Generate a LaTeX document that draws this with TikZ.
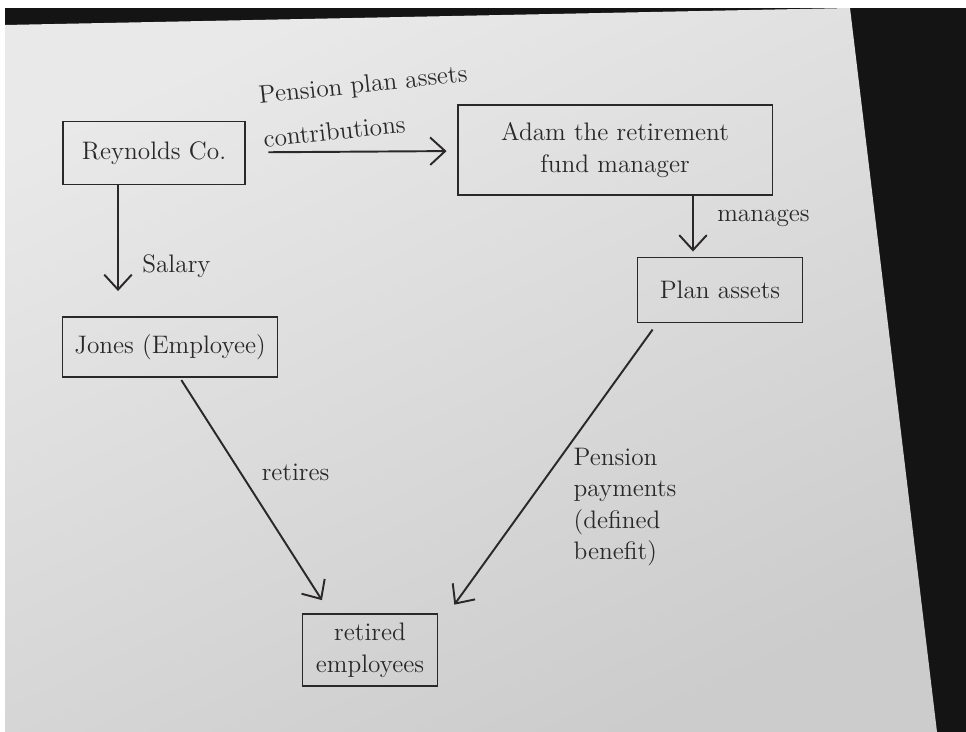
\documentclass[tikz,border=0pt]{standalone}
\usepackage{amsmath}
\usepackage{tikz}
\usetikzlibrary{arrows.meta}
\usetikzlibrary{calc}

\definecolor{ink}{RGB}{42,40,40}
\definecolor{paperA}{RGB}{234,233,234}
\definecolor{paperB}{RGB}{204,204,204}

\begin{document}
\begin{tikzpicture}[x=0.02cm, y=-0.02cm,
    box/.style={draw=ink, line width=1.1pt, rectangle, align=center, text=ink, font=\Large},
    lbl/.style={text=ink, font=\Large, align=left},
    arr/.style={draw=ink, line width=1.1pt, -{Straight Barb[length=3mm,width=5.5mm]}}]

    % photo background
    \useasboundingbox (0,0) rectangle (966,732);
    \fill[white] (0,0) rectangle (966,732);
    \fill[black!92] (5,8) rectangle (966,732);
    \shade[top color=paperA, bottom color=paperB, shading angle=25]
        (5,25) -- (850,8) -- (937,732) -- (5,732) -- cycle;

    \node (rey) [box, minimum width=3.64cm, minimum height=1.26cm] at (154,153) {Reynolds Co.};
    \node (adam) [box, minimum width=6.3cm, minimum height=1.8cm] at (615,150) {Adam the retirement\\fund manager};
    \node (plan) [box, minimum width=3.3cm, minimum height=1.3cm] at (720,290) {Plan assets};
    \node (jones) [box, minimum width=4.3cm, minimum height=1.2cm] at (170,347) {Jones (Employee)};
    \node (ret) [box, minimum width=2.7cm, minimum height=1.45cm] at (370,650) {retired\\employees};

    \draw[arr, shorten <=0.45cm, shorten >=0.2cm] (rey) -- (adam)
        node[lbl, midway, above=0.25cm, xshift=0.35cm, rotate=6, align=left, inner sep=1pt] {Pension plan assets\\[7pt]contributions};
    \draw[arr, shorten >=0.5cm] ([xshift=-0.72cm]rey.south) -- ([xshift=-0.72cm]rey.south |- jones.north)
        node[lbl, midway, right=0.35cm, yshift=-0.3cm] {Salary};
    \draw[arr, shorten >=0.1cm] ([xshift=1.56cm]adam.south) -- ([xshift=1.56cm]adam.south |- plan.north)
        node[lbl, midway, right=0.35cm, yshift=0.15cm] {manages};
    \draw[arr, shorten <=0.05cm, shorten >=0.3cm] ([xshift=0.2cm]jones.south) -- ([xshift=-0.8cm]ret.north)
        node[lbl, pos=0.4, right=0.3cm] {retires};
    \draw[arr, shorten <=0.15cm, shorten >=0.2cm] ([xshift=-1.26cm]plan.south) -- ([xshift=0.2cm]ret.north east)
        node[lbl, pos=0.6, right=0.7cm, yshift=-0.2cm] {Pension\\payments\\(defined\\benefit)};

\end{tikzpicture}
\end{document}
